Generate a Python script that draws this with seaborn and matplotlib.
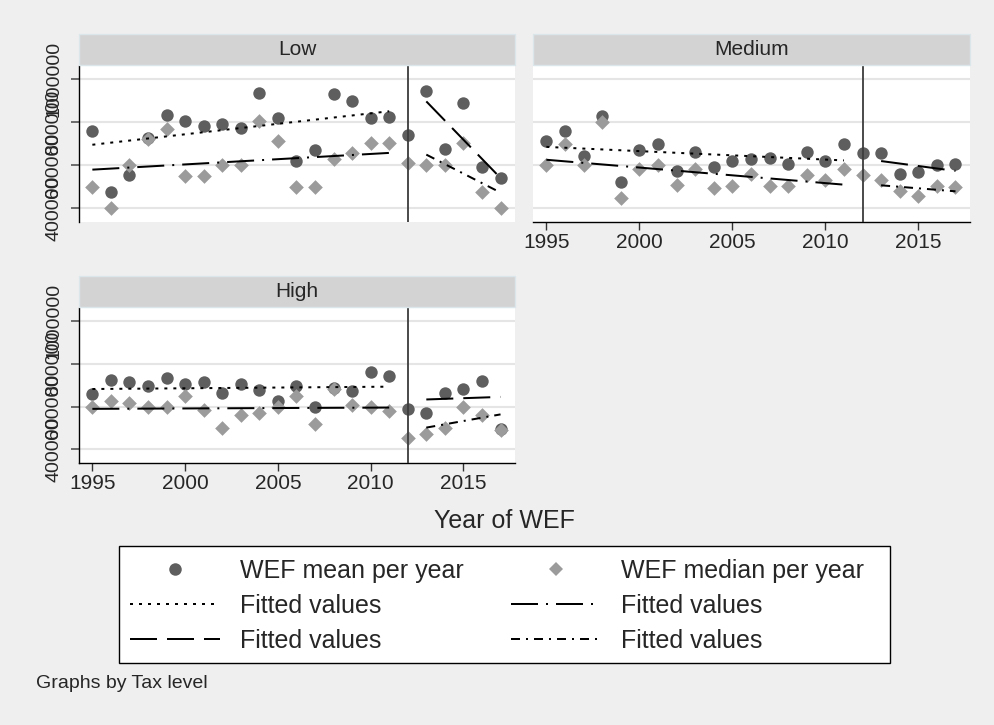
import numpy as np
import pandas as pd
import seaborn as sns
import matplotlib.pyplot as plt
from matplotlib.lines import Line2D
from matplotlib.patches import Rectangle

# ---------------------------------------------------------------- data
years = list(range(1995, 2018))
tax_levels = ["Low", "Medium", "High"]

mean_low = [759, 473, 556, 728, 832, 804, 782, 793, 773, 938, 820, 619,
            669, 933, 899, 820, 824, 742, 944, 674, 890, 591, 540]
median_low = [498, 400, 602, 720, 767, 549, 549, 599, 599, 804, 711, 498,
              498, 627, 658, 705, 705, 611, 602, 602, 705, 475, 400]

mean_medium = [711, 759, 643, 829, 521, 669, 697, 571, 661, 591, 618, 630,
               633, 604, 661, 618, 697, 657, 658, 560, 568, 599, 604]
median_medium = [602, 700, 602, 801, 447, 580, 602, 506, 584, 494, 503, 560,
                 503, 503, 552, 529, 584, 552, 532, 478, 456, 501, 498]

mean_high = [659, 726, 716, 698, 732, 704, 716, 662, 704, 679, 628, 698,
             597, 688, 675, 764, 744, 589, 569, 664, 682, 718, 495]
median_high = [600, 625, 617, 600, 600, 651, 585, 501, 561, 571, 600, 651,
               516, 682, 609, 600, 577, 450, 473, 501, 600, 558, 492]

# fitted values at the ends of each estimation window
fit_years_pre = [1995, 2011]
fit_years_post = [2013, 2017]
fit_mean_pre_low = [695, 851]
fit_median_pre_low = [579, 657]
fit_mean_post_low = [897, 540]
fit_median_post_low = [649, 472]
fit_mean_pre_medium = [685, 622]
fit_median_pre_medium = [625, 509]
fit_mean_post_medium = [619, 573]
fit_median_post_medium = [506, 478]
fit_mean_pre_high = [682, 693]
fit_median_pre_high = [589, 595]
fit_mean_post_high = [633, 645]
fit_median_post_high = [501, 563]

reform_year = 2012
y_ticks = [400000, 600000, 800000, 1000000]
x_ticks = [1995, 2000, 2005, 2010, 2015]

K = 1000
panel_data = {
    "Low": (mean_low, median_low, fit_mean_pre_low, fit_median_pre_low,
            fit_mean_post_low, fit_median_post_low),
    "Medium": (mean_medium, median_medium, fit_mean_pre_medium,
               fit_median_pre_medium, fit_mean_post_medium,
               fit_median_post_medium),
    "High": (mean_high, median_high, fit_mean_pre_high, fit_median_pre_high,
             fit_mean_post_high, fit_median_post_high),
}

# ---------------------------------------------------------------- style
sns.set_style("white")
plt.rcParams["font.family"] = ["Liberation Sans", "DejaVu Sans"]
plt.rcParams["lines.scale_dashes"] = False

BG = "#efefef"
MEAN_C = "#5e5e5e"
MED_C = "#9b9b9b"
PX = 0.72  # points per pixel at 100 dpi

ls_mean_pre = (0, (3 * PX, 6 * PX))
ls_median_pre = (0, (27 * PX, 8 * PX, 2 * PX, 8 * PX))
ls_mean_post = (0, (27 * PX, 10 * PX))
ls_median_post = (0, (9 * PX, 6 * PX, 2 * PX, 6 * PX))
LW = 2 * PX

W, H = 995, 725
fig = plt.figure(figsize=(W / 100, H / 100), dpi=100, facecolor=BG)


def fig_box(x0, y0, x1, y1):
    """pixel box (top-left origin) -> figure fraction rect"""
    return [x0 / W, 1 - y1 / H, (x1 - x0) / W, (y1 - y0) / H]


panel_boxes = {
    "Low": (79, 66, 515, 222),
    "Medium": (533, 66, 970, 222),
    "High": (79, 308, 515, 463),
}
strip_h = 31

for level in tax_levels:
    x0, y0, x1, y1 = panel_boxes[level]
    ax = fig.add_axes(fig_box(x0, y0, x1, y1))
    ax.set_facecolor("white")
    means, medians, fmp, fdp, fmq, fdq = panel_data[level]

    df = pd.DataFrame({"year": years,
                       "mean": np.array(means) * K,
                       "median": np.array(medians) * K})

    for yv in y_ticks:
        ax.axhline(yv, color="#e5e5e5", lw=1.5, zorder=0)

    sns.scatterplot(data=df, x="year", y="mean", ax=ax, color=MEAN_C,
                    marker="o", s=80, linewidth=0, zorder=3)
    sns.scatterplot(data=df, x="year", y="median", ax=ax, color=MED_C,
                    marker="D", s=56, linewidth=0, zorder=4)

    sns.lineplot(x=fit_years_pre, y=np.array(fmp) * K, ax=ax, color="black",
                 lw=LW, linestyle=ls_mean_pre, zorder=5)
    sns.lineplot(x=fit_years_pre, y=np.array(fdp) * K, ax=ax, color="black",
                 lw=LW, linestyle=ls_median_pre, zorder=5)
    sns.lineplot(x=fit_years_post, y=np.array(fmq) * K, ax=ax, color="black",
                 lw=LW, linestyle=ls_mean_post, zorder=5)
    sns.lineplot(x=fit_years_post, y=np.array(fdq) * K, ax=ax, color="black",
                 lw=LW, linestyle=ls_median_post, zorder=5)

    ax.axvline(reform_year, color="#3c3c3c", lw=1.3, zorder=6)

    ax.set_xlim(1994.28, 2017.78)
    ax.set_ylim(335000, 1062000)
    ax.set_xlabel("")
    ax.set_ylabel("")

    for side in ["top", "right"]:
        ax.spines[side].set_visible(False)

    show_x = level in ("Medium", "High")
    show_y = level in ("Low", "High")

    ax.spines["bottom"].set_visible(show_x)
    ax.spines["left"].set_visible(show_y)
    for side in ["bottom", "left"]:
        ax.spines[side].set_color("black")
        ax.spines[side].set_linewidth(1.0)

    if show_x:
        ax.set_xticks(x_ticks)
        ax.set_xticklabels([str(t) for t in x_ticks], fontsize=15)
        ax.tick_params(axis="x", length=6, width=1.0, color="#333333",
                       pad=2, direction="out", bottom=True)
    else:
        ax.set_xticks([])

    if show_y:
        ax.set_yticks(y_ticks)
        ax.set_yticklabels([str(t) for t in y_ticks], fontsize=14,
                           rotation=90, va="center")
        ax.tick_params(axis="y", length=6, width=1.2, color="#555555",
                       pad=6, direction="out", left=True)
    else:
        ax.set_yticks([])

    # panel header
    sx0, sx1 = x0, x1
    fig.add_artist(Rectangle((sx0 / W, 1 - (y0 - 1) / H),
                             (sx1 - sx0) / W, strip_h / H,
                             transform=fig.transFigure, facecolor="#d3d3d3",
                             edgecolor="#dbe6ea", lw=1.0))
    fig.text((sx0 + sx1) / 2 / W, 1 - (y0 - 1 - strip_h / 2) / H, level,
             ha="center", va="center", fontsize=15)

# ---------------------------------------------------------------- labels
fig.text(504 / W, 1 - 521 / H, "Year of WEF", ha="center", va="center",
         fontsize=18)
fig.text(36 / W, 1 - 684 / H, "Graphs by Tax level", ha="left",
         va="center", fontsize=14)

handles = [
    Line2D([], [], marker="o", color=MEAN_C, linestyle="none",
           markersize=9, markeredgewidth=0),
    Line2D([], [], color="black", lw=LW, linestyle=ls_mean_pre),
    Line2D([], [], color="black", lw=LW, linestyle=ls_mean_post),
    Line2D([], [], marker="D", color=MED_C, linestyle="none",
           markersize=7.5, markeredgewidth=0),
    Line2D([], [], color="black", lw=LW, linestyle=ls_median_pre),
    Line2D([], [], color="black", lw=LW, linestyle=ls_median_post),
]
labels = ["WEF mean per year", "Fitted values", "Fitted values",
          "WEF median per year", "Fitted values", "Fitted values"]

# legend frame drawn as its own box so its width can be set freely
lx0, ly0, lx1, ly1 = 119, 546, 890, 663
fig.add_artist(Rectangle((lx0 / W, 1 - ly1 / H), (lx1 - lx0) / W,
                         (ly1 - ly0) / H, transform=fig.transFigure,
                         facecolor="white", edgecolor="black", lw=1.0,
                         zorder=1))
leg = fig.legend(handles, labels, ncol=2, loc="upper left",
                 bbox_to_anchor=((lx0 - 12) / W, 1 - (ly0 - 10) / H),
                 fontsize=18, frameon=False, handlelength=3.6,
                 handletextpad=0.8, columnspacing=1.9, labelspacing=0.44,
                 borderpad=0.42)
leg.set_zorder(2)

fig.savefig("out.png", dpi=100, facecolor=BG)
